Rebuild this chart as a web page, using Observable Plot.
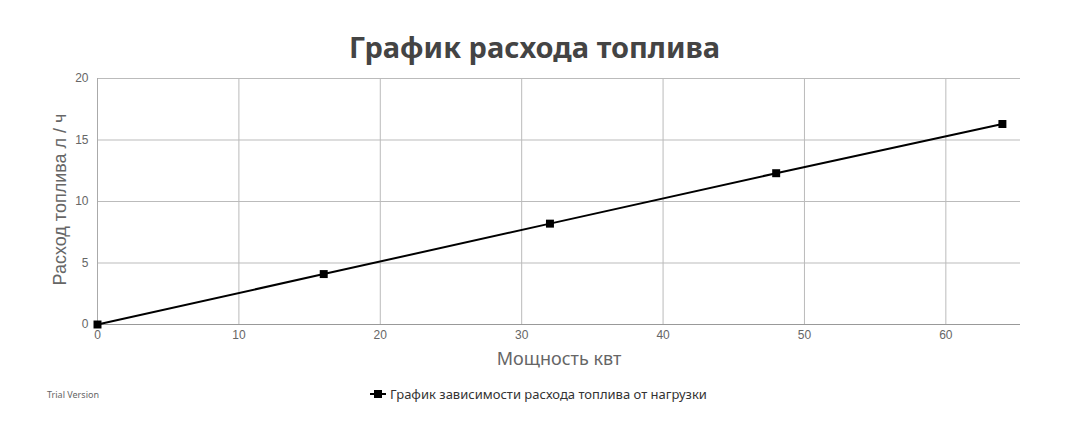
<!DOCTYPE html>
<html>
<head>
<meta charset="utf-8">
<script src="https://cdn.jsdelivr.net/npm/d3@7"></script>
<script src="https://cdn.jsdelivr.net/npm/@observablehq/plot@0.6"></script>
<style>
  html, body { margin: 0; padding: 0; background: #fff; }
  #wrap { position: relative; width: 1069px; height: 427px; overflow: hidden; }
  #title { position: absolute; left: 0; width: 1069px; top: 27px; text-align: center;
           font-family: "Noto Sans", sans-serif; font-weight: bold; font-size: 29px; color: #444; }
  #trial { position: absolute; left: 47px; top: 388px; font-family: "Noto Sans", sans-serif;
           font-size: 9px; color: #666; }
  #legend { position: absolute; left: 370px; top: 385px; font-family: "Noto Sans", sans-serif;
            font-size: 13px; color: #333; display: flex; align-items: center; white-space: nowrap; }
  #legend svg { margin-right: 4px; }
</style>
</head>
<body>
<div id="wrap">
  <div id="chart"></div>
  <div id="title"></div>
  <div id="trial"></div>
  <div id="legend"></div>
</div>
<script>
const titleText = "График расхода топлива";
const xLabel = "Мощность квт";
const yLabel = "Расход топлива л / ч";
const seriesName = "График зависимости расхода топлива от нагрузки";
const watermark = "Trial Version";

const power = [0, 16, 32, 48, 64];
const fuel = [0, 4.1, 8.2, 12.3, 16.3];
const xTicks = [0, 10, 20, 30, 40, 50, 60];
const yTicks = [0, 5, 10, 15, 20];

const data = power.map((p, i) => ({ power: p, fuel: fuel[i] }));

const chart = Plot.plot({
  width: 1069,
  height: 427,
  marginLeft: 97,
  marginRight: 49,
  marginTop: 78,
  marginBottom: 103,
  x: { domain: [0, 65.28] },
  y: { domain: [0, 20] },
  style: { fontFamily: "Liberation Sans, Arial, sans-serif", fontSize: "12px", color: "#666", background: "#fff" },
  marks: [
    Plot.gridX(xTicks, { stroke: "#bbb", strokeOpacity: 1 }),
    Plot.gridY(yTicks, { stroke: "#bbb", strokeOpacity: 1 }),
    Plot.ruleX([0], { stroke: "#aaa" }),
    Plot.ruleY([0], { stroke: "#999" }),
    Plot.axisX(xTicks, { tickSize: 0, tickPadding: 6, label: null, fontSize: 12, fill: "#666" }),
    Plot.axisY(yTicks, { tickSize: 0, tickPadding: 9, label: null, fontSize: 12, fill: "#666" }),
    Plot.text([xLabel], { frameAnchor: "bottom", dy: 40, fontSize: 18, fill: "#666",
      fontFamily: "Noto Sans, sans-serif" }),
    Plot.text([yLabel], { frameAnchor: "left", textAnchor: "middle", rotate: -90, dx: -37, dy: -2, fontSize: 18, fill: "#666",
      fontFamily: "Liberation Sans, Arial, sans-serif" }),
    Plot.line(data, { x: "power", y: "fuel", stroke: "black", strokeWidth: 2 }),
    Plot.dot(data, { x: "power", y: "fuel", symbol: "square", fill: "black", r: 4.5 })
  ]
});
document.getElementById("chart").appendChild(chart);
document.getElementById("title").textContent = titleText;
document.getElementById("trial").textContent = watermark;
document.getElementById("legend").innerHTML =
  '<svg width="16" height="10"><line x1="0" y1="5" x2="16" y2="5" stroke="black" stroke-width="2"/><rect x="4" y="1" width="8" height="8" fill="black"/></svg><span></span>';
document.querySelector("#legend span").textContent = seriesName;
</script>
</body>
</html>
